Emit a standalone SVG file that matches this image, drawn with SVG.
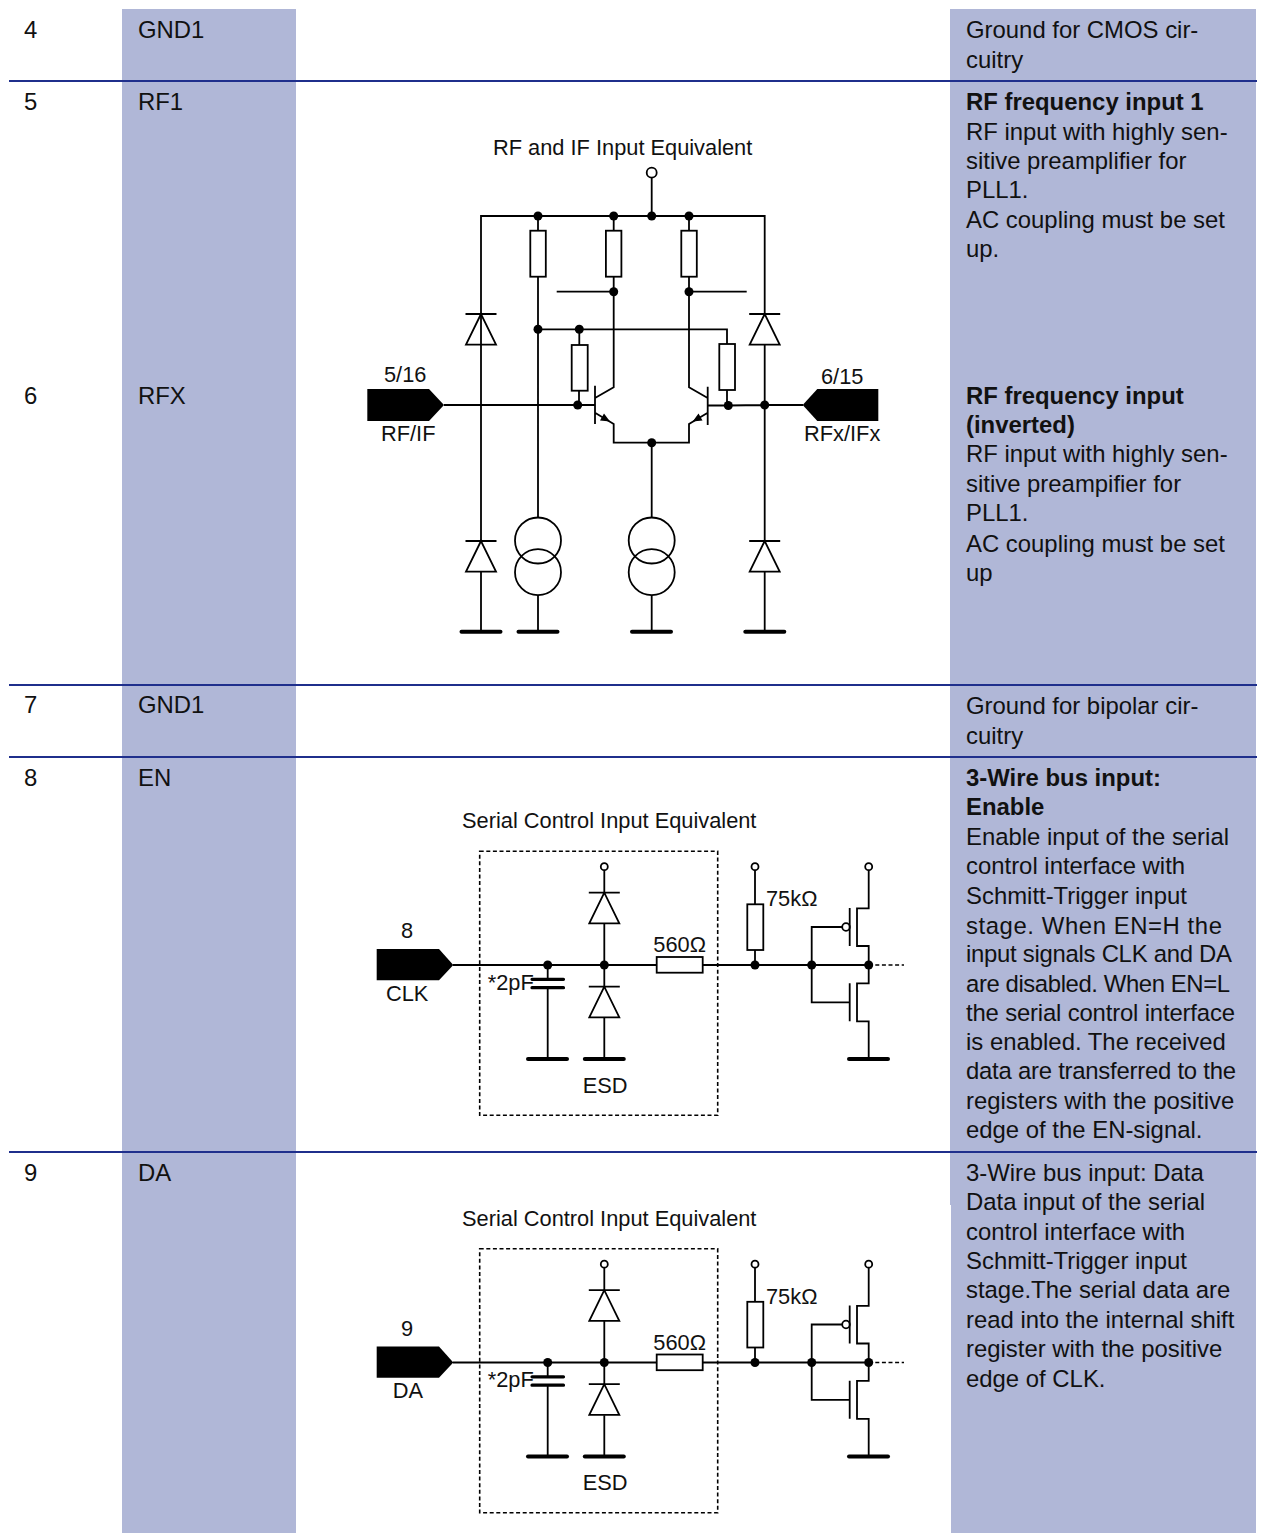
<svg xmlns="http://www.w3.org/2000/svg" xmlns:xlink="http://www.w3.org/1999/xlink" width="1263" height="1533" viewBox="0 0 1263 1533">
<style>
text{font-family:"Liberation Sans",Arial,sans-serif;font-size:23.9px;fill:#111}
.b{font-weight:bold}
.c{font-size:21.8px}
.w{fill:none;stroke:#000;stroke-width:1.8}
.r{fill:none;stroke:#000;stroke-width:1.8}
.rule{stroke:#1f2f8c;stroke-width:1.8;fill:none}
.g{stroke:#000;stroke-width:4;stroke-linecap:round;fill:none}
.d{fill:#000}
.o{fill:#fff;stroke:#000;stroke-width:1.8}
.dash{fill:none;stroke:#000;stroke-width:1.6;stroke-dasharray:4 2.6}
</style>
<defs>
<g id="diode"><path class="w" d="M-15.500,0H15.500M0,0L-15,30.700H15Z"/></g>
<circle id="dot" class="d" r="4.500"/>
<path id="gnd" class="g" d="M-19.500,0H19.500"/>
<g id="src"><circle class="w" cy="0" r="23"/><circle class="w" cy="31.700" r="23"/></g>
<g id="serial">
<path class="dash" d="M479.700,851.300H717.700V1115.300H479.700Z"/>
<path class="d" d="M376.700,949H439L453.300,965L439,980.300H376.700Z"/>
<path class="w" d="M453,965H656.700M702.700,965H868.700"/>
<path class="dash" d="M868.700,965H904"/>
<path class="w" d="M547.700,965V979M547.700,988V1059M604.300,870V892.700M604.300,923.300V986.700M604.300,1017.700V1059"/>
<path class="g" style="stroke-width:3.200;stroke-linecap:round" d="M532,979.300H563.500M532,987.700H563.500"/>
<use xlink:href="#dot" href="#dot" x="547.700" y="965"/>
<use xlink:href="#dot" href="#dot" x="604.300" y="965"/>
<use xlink:href="#dot" href="#dot" x="755" y="965"/>
<use xlink:href="#dot" href="#dot" x="811.700" y="965"/>
<use xlink:href="#dot" href="#dot" x="868.700" y="965"/>
<use xlink:href="#diode" href="#diode" x="604.300" y="892.700"/>
<use xlink:href="#diode" href="#diode" x="604.300" y="986.700"/>
<use xlink:href="#gnd" href="#gnd" x="547.500" y="1059"/>
<use xlink:href="#gnd" href="#gnd" x="604.300" y="1059"/>
<use xlink:href="#gnd" href="#gnd" x="868.500" y="1059"/>
<rect class="r" x="656.700" y="957" width="46" height="15.700"/>
<rect class="r" x="747.300" y="904.300" width="16" height="45.700"/>
<path class="w" d="M755,870V904.300M755,950V965M868.700,870V908.300H857V946H868.700V983.300H857V1021.300H868.700V1059M811.700,1002.300V927H842M811.700,965V1002.300H849.700M849.700,908V946M849.700,983.300V1021.300"/>
<circle class="w" cx="846" cy="927" r="3.800"/>
<circle class="o" cx="604.300" cy="866.700" r="3.500"/>
<circle class="o" cx="755" cy="866.700" r="3.500"/>
<circle class="o" cx="868.700" cy="866.700" r="3.500"/>
</g>
</defs>

<g id="table">
<rect x="122" y="9" width="174" height="1524" fill="#b0b7d7"/>
<rect x="950" y="9" width="306" height="1196" fill="#b0b7d7"/>
<rect x="951" y="1205" width="305" height="328" fill="#b0b7d7"/>
<path class="rule" d="M9,81H1257M9,685H1257M9,757H1257M9,1152H1257"/>
</g>

<g id="col-pin">
<text x="24" y="38">4</text><text x="24" y="110">5</text><text x="24" y="404">6</text><text x="24" y="713">7</text><text x="24" y="786">8</text><text x="24" y="1181">9</text>
</g>
<g id="col-name">
<text x="138" y="38">GND1</text><text x="138" y="110">RF1</text><text x="138" y="404">RFX</text><text x="138" y="713">GND1</text><text x="138" y="786">EN</text><text x="138" y="1181">DA</text>
</g>
<g id="col-desc">
<text x="966" y="38">Ground for CMOS cir-</text>
<text x="966" y="67.500">cuitry</text>
<text class="b" x="966" y="110">RF frequency input 1</text>
<text x="966" y="139.500">RF input with highly sen-</text>
<text x="966" y="169">sitive preamplifier for</text>
<text x="966" y="198.400">PLL1.</text>
<text x="966" y="227.800">AC coupling must be set</text>
<text x="966" y="257.200">up.</text>
<text class="b" x="966" y="404">RF frequency input</text>
<text class="b" x="966" y="433">(inverted)</text>
<text x="966" y="462">RF input with highly sen-</text>
<text x="966" y="492">sitive preampifier for</text>
<text x="966" y="521">PLL1.</text>
<text x="966" y="551.500">AC coupling must be set</text>
<text x="966" y="580.500">up</text>
<text x="966" y="714">Ground for bipolar cir-</text>
<text x="966" y="743.500">cuitry</text>
<text class="b" x="966" y="786">3-Wire bus input:</text>
<text class="b" x="966" y="815">Enable</text>
<text x="966" y="844.500">Enable input of the serial</text>
<text x="966" y="874">control interface with</text>
<text x="966" y="903.500">Schmitt-Trigger input</text>
<text x="966" y="933.500" textLength="256" lengthAdjust="spacing">stage. When EN=H the</text>
<text x="966" y="962" textLength="266" lengthAdjust="spacing">input signals CLK and DA</text>
<text x="966" y="992" textLength="264" lengthAdjust="spacing">are disabled. When EN=L</text>
<text x="966" y="1021" textLength="269" lengthAdjust="spacing">the serial control interface</text>
<text x="966" y="1050">is enabled. The received</text>
<text x="966" y="1079" textLength="270" lengthAdjust="spacing">data are transferred to the</text>
<text x="966" y="1109">registers with the positive</text>
<text x="966" y="1138">edge of the EN-signal.</text>
<text x="966" y="1180.700">3-Wire bus input: Data</text>
<text x="966" y="1210">Data input of the serial</text>
<text x="966" y="1239.500">control interface with</text>
<text x="966" y="1269">Schmitt-Trigger input</text>
<text x="966" y="1298.400">stage.The serial data are</text>
<text x="966" y="1327.800">read into the internal shift</text>
<text x="966" y="1357.200">register with the positive</text>
<text x="966" y="1386.600">edge of CLK.</text>
</g>

<g id="circuit-rf">
<path class="d" d="M367.300,389H429L444,405L429,421H367.300Z"/>
<path class="d" d="M878.300,389H817.300L802.700,405L817.300,421H878.300Z"/>
<path class="w" d="M651.700,177V216M481,344.700V216H764.700V314M481,314V344M538,216V230.700M613.700,216V230.700M689,216V230.700M538,276.700V517.700M613.700,276.700V387.300L595,398M689,276.700V387.300L707.700,398M556.700,291.700H613.700M689,291.700H746.700M538,329.300H727V344M579.300,329.300V345M579,390.700V405M727,390V405.500M444,405H595M707.700,405.500H728L764.700,405H803M595,385.700V424M707.700,386.700V425M595,412.700L613.700,424V442.700H689V424L707.700,412.700M651.700,442.700V517.700M481,344.700V541M481,571.300V631.700M764.700,344.700V541M764.700,571.300V631.700M538,595V631.700M651.700,595V631.700"/>
<path class="d" d="M610,421.500L604,413.500L600,420.500ZM692.700,421.500L698.500,413.500L702.500,420.500Z"/>
<use xlink:href="#dot" href="#dot" x="538" y="216"/>
<use xlink:href="#dot" href="#dot" x="613.700" y="216"/>
<use xlink:href="#dot" href="#dot" x="651.700" y="216"/>
<use xlink:href="#dot" href="#dot" x="689" y="216"/>
<use xlink:href="#dot" href="#dot" x="613.700" y="291.700"/>
<use xlink:href="#dot" href="#dot" x="689" y="291.700"/>
<use xlink:href="#dot" href="#dot" x="538" y="329.300"/>
<use xlink:href="#dot" href="#dot" x="579.300" y="329.300"/>
<use xlink:href="#dot" href="#dot" x="577.700" y="405"/>
<use xlink:href="#dot" href="#dot" x="728.300" y="405.500"/>
<use xlink:href="#dot" href="#dot" x="764.700" y="405"/>
<use xlink:href="#dot" href="#dot" x="651.700" y="442.700"/>
<rect class="r" x="530.300" y="230.700" width="15.500" height="46"/>
<rect class="r" x="605.900" y="230.700" width="15.500" height="46"/>
<rect class="r" x="681.300" y="230.700" width="15.500" height="46"/>
<rect class="r" x="571.700" y="345" width="16" height="45.700"/>
<rect class="r" x="719.300" y="344" width="15.700" height="46"/>
<use xlink:href="#diode" href="#diode" x="481" y="314"/>
<use xlink:href="#diode" href="#diode" x="764.700" y="314"/>
<use xlink:href="#diode" href="#diode" x="481" y="541"/>
<use xlink:href="#diode" href="#diode" x="764.700" y="541"/>
<use xlink:href="#src" href="#src" x="538" y="540.500"/>
<use xlink:href="#src" href="#src" x="651.700" y="540.500"/>
<use xlink:href="#gnd" href="#gnd" x="481" y="631.700"/>
<use xlink:href="#gnd" href="#gnd" x="538" y="631.700"/>
<use xlink:href="#gnd" href="#gnd" x="651.500" y="631.700"/>
<use xlink:href="#gnd" href="#gnd" x="764.800" y="631.700"/>
<circle class="o" cx="651.700" cy="172.700" r="5"/>
<text class="c" x="493" y="155">RF and IF Input Equivalent</text>
<text class="c" x="384" y="381.700">5/16</text>
<text class="c" x="381" y="440.700">RF/IF</text>
<text class="c" x="821" y="384">6/15</text>
<text class="c" x="804" y="440.700">RFx/IFx</text>
</g>

<g id="circuit-en">
<use xlink:href="#serial" href="#serial"/>
<text class="c" x="462" y="828">Serial Control Input Equivalent</text>
<text class="c" x="401" y="937.700">8</text>
<text class="c" x="386" y="1001">CLK</text>
<text class="c" x="487.700" y="990">*2pF</text>
<text class="c" x="582.700" y="1092.700">ESD</text>
<text class="c" x="653.300" y="951.700">560Ω</text>
<text class="c" x="766" y="906">75kΩ</text>
</g>
<g id="circuit-da">
<use xlink:href="#serial" href="#serial" y="397.500"/>
<text class="c" x="462" y="1226">Serial Control Input Equivalent</text>
<text class="c" x="401" y="1335.700">9</text>
<text class="c" x="392.700" y="1398.300">DA</text>
<text class="c" x="487.700" y="1387.300">*2pF</text>
<text class="c" x="582.700" y="1490">ESD</text>
<text class="c" x="653.300" y="1350">560Ω</text>
<text class="c" x="766" y="1304">75kΩ</text>
</g>
</svg>
